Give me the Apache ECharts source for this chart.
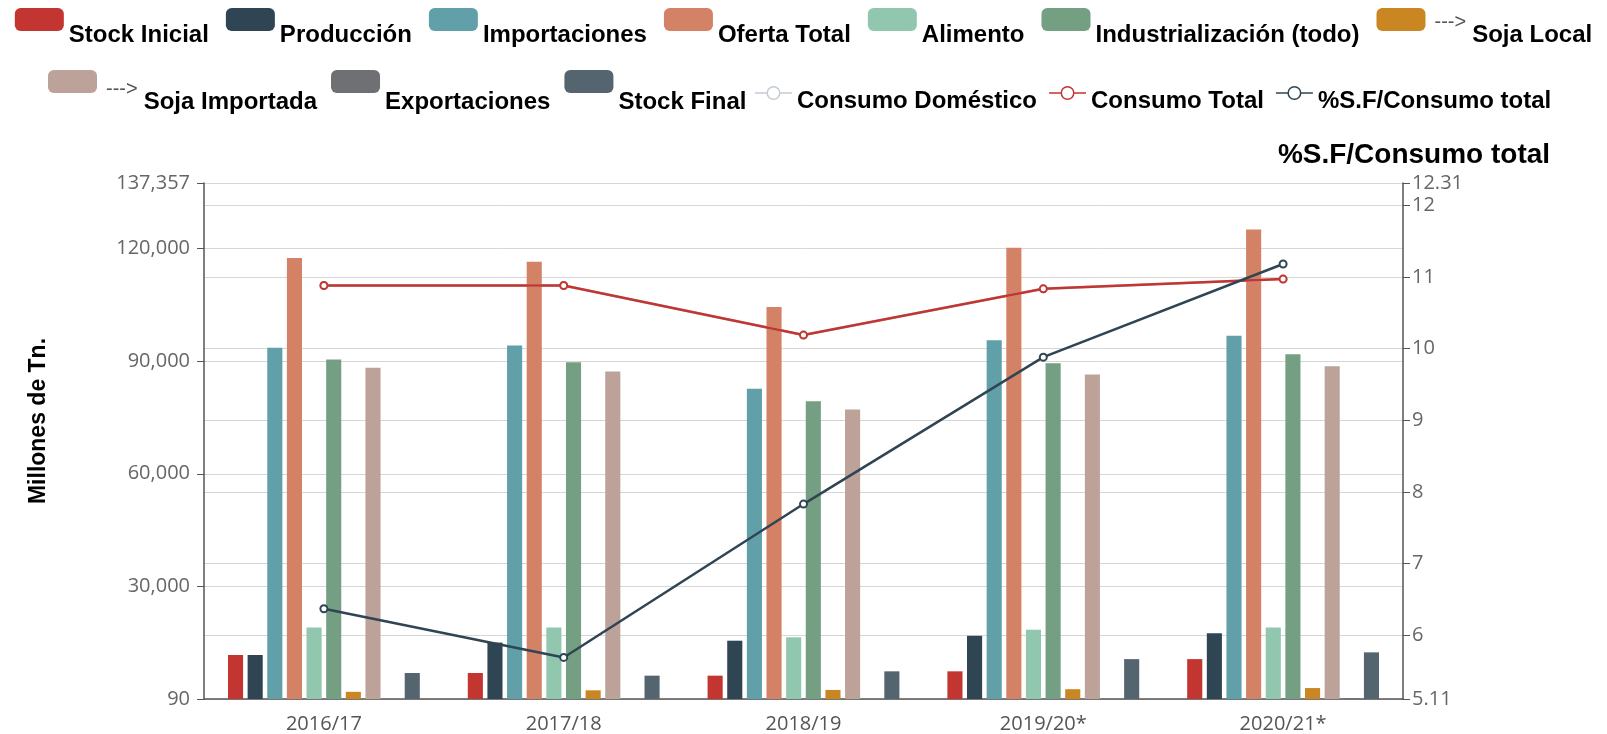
<!DOCTYPE html>
<html lang="es">
<head>
  <meta charset="UTF-8" />
  <title>Soja - Balance</title>
  <script src="https://cdn.jsdelivr.net/npm/echarts@6/dist/echarts.min.js"></script>
  <style>
    html, body { margin: 0; padding: 0; background: #fff; }
    #chart { width: 1607px; height: 734px; }
  </style>
</head>
<body>
  <div id="chart"></div>
  <script>
    // datos
    const categories = ['2016/17', '2017/18', '2018/19', '2019/20*', '2020/21*'];
    const stockInicial = [11800, 7000, 6300, 7450, 10700];
    const produccion = [11800, 15100, 15600, 16900, 17600];
    const importaciones = [93500, 94100, 82600, 95500, 96700];
    const ofertaTotal = [117400, 116400, 104400, 120100, 125000];
    const alimento = [19100, 19100, 16500, 18500, 19100];
    const industrializacion = [90400, 89700, 79300, 89400, 91800];
    const sojaLocal = [2000, 2400, 2500, 2700, 3000];
    const sojaImportada = [88200, 87200, 77100, 86400, 88600];
    const exportaciones = [0, 0, 0, 100, 300];
    const stockFinal = [7000, 6300, 7450, 10700, 12500];
    const consumoDomestico = [110100, 110100, 96900, 109200, 111800];
    const consumoTotal = [110100, 110100, 96900, 109200, 111800];
    const pctStockFinal = [6.37, 5.69, 7.83, 9.88, 11.18];

    const leftMin = 90, leftMax = 137357;
    const rightMin = 5.11, rightMax = 12.31;

    const colors = ['#c23531', '#2f4554', '#61a0a8', '#d48265', '#91c7ae', '#749f83',
                    '#ca8622', '#bda29a', '#6e7074', '#546570', '#c4ccd3'];

    const barSeries = [
      ['Stock Inicial', stockInicial],
      ['Producción', produccion],
      ['Importaciones', importaciones],
      ['Oferta Total', ofertaTotal],
      ['Alimento', alimento],
      ['Industrialización (todo)', industrializacion],
      ['Soja Local', sojaLocal],
      ['Soja Importada', sojaImportada],
      ['Exportaciones', exportaciones],
      ['Stock Final', stockFinal]
    ];

    const chart = echarts.init(document.getElementById('chart'));

    const labelFont = "'Open Sans', 'Noto Sans', sans-serif";
    const boldFont = "'Liberation Sans', Arial, sans-serif";

    function legendText(padTop) {
      return {
        color: '#000',
        fontWeight: 'bold',
        fontSize: 24,
        fontFamily: boldFont,
        padding: [padTop, 0, 0, 0],
        rich: {
          arr: {
            fontSize: 20, fontWeight: 'normal', color: '#555', fontFamily: boldFont,
            padding: [0, 6, 26, 4]
          }
        }
      };
    }
    const legendFmt = function (name) {
      return name.indexOf('Soja') === 0 ? '{arr|--->}' + name : name;
    };
    // icono de línea corta con círculo vacío (caja 37x16)
    const lineIcon = 'path://M0,0M37,16M0,7.2L12,7.2L12,8.8L0,8.8Z' +
      'M25,7.2L37,7.2L37,8.8L25,8.8Z' +
      'M11.5,8A7,7,0,1,1,25.5,8A7,7,0,1,1,11.5,8Z' +
      'M13,8A5.5,5.5,0,1,0,24,8A5.5,5.5,0,1,0,13,8Z';

    const series = barSeries.map(function (s) {
      return {
        name: s[0],
        type: 'bar',
        barGap: '30%',
        barCategoryGap: '20%',
        data: s[1]
      };
    });
    series.push({
      name: 'Consumo Doméstico',
      type: 'line',
      symbol: 'emptyCircle',
      symbolSize: 7,
      z: 2,
      lineStyle: { width: 2.5 },
      data: consumoDomestico
    });
    series.push({
      name: 'Consumo Total',
      type: 'line',
      symbol: 'emptyCircle',
      symbolSize: 7,
      z: 3,
      itemStyle: { color: '#c23531' },
      lineStyle: { width: 2.5 },
      data: consumoTotal
    });
    series.push({
      name: '%S.F/Consumo total',
      type: 'line',
      yAxisIndex: 1,
      symbol: 'emptyCircle',
      symbolSize: 7,
      z: 3,
      itemStyle: { color: '#2f4554' },
      lineStyle: { width: 2.5 },
      data: pctStockFinal
    });

    const option = {
      color: colors,
      animation: false,
      legend: [
        {
          top: 3,
          left: 'center',
          itemWidth: 49,
          itemHeight: 23,
          itemGap: 17,
          icon: 'roundRect',
          data: ['Stock Inicial', 'Producción', 'Importaciones', 'Oferta Total',
                 'Alimento', 'Industrialización (todo)', 'Soja Local'],
          formatter: legendFmt,
          textStyle: legendText(32)
        },
        {
          top: 65,
          left: 43,
          itemWidth: 49,
          itemHeight: 23,
          itemGap: 14,
          icon: 'roundRect',
          data: ['Soja Importada', 'Exportaciones', 'Stock Final'],
          formatter: legendFmt,
          textStyle: legendText(42)
        },
        {
          top: 80,
          left: 750,
          itemWidth: 37,
          itemHeight: 23,
          itemGap: 12,
          data: [
            { name: 'Consumo Doméstico', icon: lineIcon, itemStyle: { borderWidth: 0 } },
            { name: 'Consumo Total', icon: lineIcon, itemStyle: { borderWidth: 0 } },
            { name: '%S.F/Consumo total', icon: lineIcon, itemStyle: { borderWidth: 0 } }
          ],
          textStyle: legendText(16)
        }
      ],
      grid: { left: 204, right: 204, top: 183, bottom: 34 },
      xAxis: {
        type: 'category',
        data: categories,
        axisLine: { lineStyle: { color: '#555', width: 1.5 } },
        axisTick: { lineStyle: { color: '#555' }, length: 6 },
        axisLabel: { color: '#555', fontSize: 20, fontFamily: labelFont, margin: 15 }
      },
      yAxis: [
        {
          type: 'value',
          min: leftMin,
          max: leftMax,
          name: 'Millones de Tn.',
          nameLocation: 'middle',
          nameGap: 154,
          nameRotate: 90,
          nameTextStyle: {
            color: '#000', fontWeight: 'bold', fontSize: 23, fontFamily: boldFont,
            padding: [0, 0, 0, 40]
          },
          axisLine: { show: true, lineStyle: { color: '#555', width: 1.5 } },
          axisTick: { show: true, lineStyle: { color: '#555' }, length: 7 },
          axisLabel: { color: '#666', fontSize: 20, fontFamily: labelFont, margin: 14 },
          splitLine: { lineStyle: { color: '#d6d6d6' } }
        },
        {
          type: 'value',
          min: rightMin,
          max: rightMax,
          name: '%S.F/Consumo total',
          nameLocation: 'end',
          nameGap: 14,
          nameTextStyle: {
            color: '#000', fontWeight: 'bold', fontSize: 28, fontFamily: boldFont,
            padding: [0, 0, 0, 22]
          },
          axisLine: { show: true, lineStyle: { color: '#555', width: 1.5 } },
          axisTick: { show: true, lineStyle: { color: '#555' }, length: 7 },
          axisLabel: { color: '#666', fontSize: 20, fontFamily: labelFont, margin: 9 },
          splitLine: { lineStyle: { color: '#d6d6d6' } }
        }
      ],
      series: series
    };

    chart.setOption(option);
  </script>
</body>
</html>
